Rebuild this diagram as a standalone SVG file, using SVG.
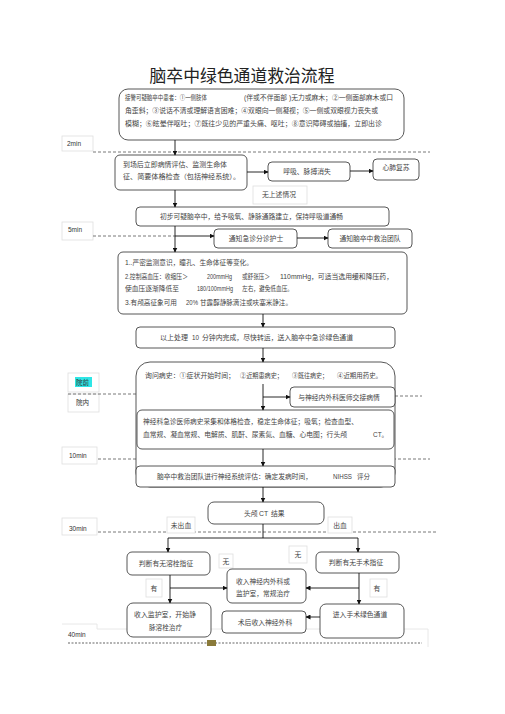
<svg xmlns="http://www.w3.org/2000/svg" width="505" height="714" viewBox="0 0 505 714">
<defs>
<marker id="ah" viewBox="0 0 10 10" refX="9" refY="5" markerWidth="5" markerHeight="5" orient="auto" markerUnits="userSpaceOnUse">
<path d="M0,0 L10,5 L0,10 z" fill="#111"/>
</marker>
</defs>
<style>
text{font-family:"Liberation Sans","Noto Sans CJK SC",sans-serif;fill:#444;font-size:6.8px}
.t{font-size:17px;fill:#222}
.b{fill:#fff;stroke:#444;stroke-width:0.9}
.lb{fill:#fff;stroke:#dedede;stroke-width:0.8}
.c{fill:none;stroke:#111;stroke-width:0.9}
.ca{fill:none;stroke:#111;stroke-width:0.9;marker-end:url(#ah)}
.d{fill:none;stroke:#555;stroke-width:0.8;stroke-dasharray:3 2}
.m{font-size:6.5px;fill:#333}
.mid{text-anchor:middle}
</style>
<rect width="505" height="714" fill="#fff"/>
<text class="t mid" x="242" y="82" textLength="185" lengthAdjust="spacingAndGlyphs">脑卒中绿色通道救治流程</text>

<g id="timeline">
<rect class="lb" x="62" y="136" width="31" height="15"/>
<text class="m" x="67" y="145.5">2min</text>
<line class="d" x1="93" y1="152" x2="430" y2="152"/>
<rect class="lb" x="62" y="222" width="31" height="18"/>
<text class="m" x="68" y="231.5">5min</text>
<line class="d" x1="93" y1="236" x2="175" y2="236"/>
<rect class="lb" x="62" y="447" width="35" height="17"/>
<text class="m" x="69" y="457.5">10min</text>
<line class="d" x1="98" y1="459" x2="430" y2="459"/>
<rect class="lb" x="62" y="518" width="35" height="17"/>
<text class="m" x="69" y="530.5">30min</text>
<line class="d" x1="98" y1="532" x2="437" y2="532"/>
<path d="M62,624 H97 V629 H428 V647" fill="none" stroke="#e2e2e2" stroke-width="0.8"/>
<text class="m" x="68" y="636.5">40min</text>
<line x1="68" y1="643" x2="422" y2="643" stroke="#999" stroke-width="1.6" stroke-dasharray="2 1.5"/>
<rect x="207" y="640" width="9" height="6" fill="#8a7a3a"/>
<rect id="yq-hl" x="75" y="377" width="17" height="10" fill="#2ee6e6"/>
<rect class="lb" x="68" y="373" width="31" height="19" fill-opacity="0"/>
<text class="m" x="76" y="385">院前</text>
<rect class="lb" x="68" y="394" width="31" height="18"/>
<text class="m" x="76" y="405">院内</text>
<line class="d" x1="68" y1="394" x2="136" y2="394"/>
<line class="d" x1="395" y1="396" x2="422" y2="396"/>
</g>

<g id="n1">
<rect class="b" x="119" y="89" width="285" height="51" rx="9"/>
<text x="125" y="100" textLength="82" lengthAdjust="spacingAndGlyphs">接警可疑脑卒中患者：①一侧肢体</text>
<text x="244" y="100" textLength="149" lengthAdjust="spacingAndGlyphs">(伴或不伴面部 )无力或麻木；②一侧面部麻木或口</text>
<text x="125" y="112.5" textLength="253" lengthAdjust="spacingAndGlyphs">角歪斜；③说话不清或理解语言困难；④双眼向一侧凝视；⑤一侧或双眼视力丧失或</text>
<text x="125" y="125.5" textLength="257" lengthAdjust="spacingAndGlyphs">模糊；⑥眩晕伴呕吐；⑦既往少见的严重头痛、呕吐；⑧意识障碍或抽搐，立即出诊</text>
</g>

<g id="n2">
<rect class="b" x="115" y="155" width="132" height="35" rx="5"/>
<text x="123" y="166.5" textLength="104" lengthAdjust="spacingAndGlyphs">到场后立即病情评估、监测生命体</text>
<text x="123" y="178.5" textLength="117" lengthAdjust="spacingAndGlyphs">征、简要体格检查（包括神经系统）。</text>
</g>

<g id="n3">
<rect class="b" x="268" y="162" width="82" height="19" rx="4"/>
<text class="mid" x="307" y="174">呼吸、脉搏消失</text>
</g>

<g id="n4">
<rect class="b" x="373" y="159" width="46" height="21" rx="4"/>
<text class="mid" x="396" y="170">心肺复苏</text>
</g>

<g id="l-none">
<rect class="lb" x="253" y="186" width="54" height="18"/>
<text class="mid" x="279" y="196.5">无上述情况</text>
</g>

<g id="n5">
<rect class="b" x="136" y="207" width="253" height="19" rx="4"/>
<text x="160" y="219" textLength="183" lengthAdjust="spacingAndGlyphs">初步可疑脑卒中，给予吸氧、静脉通路建立，保持呼吸道通畅</text>
</g>

<g id="n6">
<rect class="b" x="214" y="229" width="83" height="19" rx="4"/>
<text class="mid" x="256" y="240.5">通知急诊分诊护士</text>
</g>

<g id="n7">
<rect class="b" x="328" y="229" width="84" height="19" rx="4"/>
<text class="mid" x="370" y="240.5">通知脑卒中救治团队</text>
</g>

<g id="n8">
<rect class="b" x="118" y="252" width="289" height="62" rx="5"/>
<text x="125" y="264.5" textLength="128" lengthAdjust="spacingAndGlyphs">1..严密监测意识，瞳孔、生命体征等变化。</text>
<text x="125" y="278.5" textLength="63" lengthAdjust="spacingAndGlyphs">2.控制高血压：收缩压＞</text>
<text x="207" y="278.5" textLength="25" lengthAdjust="spacingAndGlyphs">200mmHg</text>
<text x="242" y="278.5" textLength="28" lengthAdjust="spacingAndGlyphs">或舒张压＞</text>
<text x="280" y="278.5" textLength="113" lengthAdjust="spacingAndGlyphs">110mmHg，可适当选用缓和降压药，</text>
<text x="125" y="290.5" textLength="54" lengthAdjust="spacingAndGlyphs">使血压逐渐降低至</text>
<text x="197" y="290.5" textLength="36" lengthAdjust="spacingAndGlyphs">180/100mmHg</text>
<text x="242" y="290.5" textLength="51" lengthAdjust="spacingAndGlyphs">左右，避免低血压。</text>
<text x="125" y="304.5" textLength="52" lengthAdjust="spacingAndGlyphs">3.有颅高征象可用</text>
<text x="186" y="304.5" textLength="12" lengthAdjust="spacingAndGlyphs">20%</text>
<text x="200" y="304.5" textLength="92" lengthAdjust="spacingAndGlyphs">甘露醇静脉滴注或呋塞米静注。</text>
</g>

<g id="n9">
<rect class="b" x="136" y="327" width="259" height="21" rx="4"/>
<text x="160" y="339.5" textLength="28" lengthAdjust="spacingAndGlyphs">以上处理</text>
<text x="192" y="339.5" textLength="7" lengthAdjust="spacingAndGlyphs">10</text>
<text x="202" y="339.5" textLength="151" lengthAdjust="spacingAndGlyphs">分钟内完成，尽快转运，送入脑卒中急诊绿色通道</text>
</g>

<g id="n10">
<rect class="b" x="136" y="362" width="259" height="125" rx="14"/>
<text x="145" y="377.5" textLength="90" lengthAdjust="spacingAndGlyphs">询问病史：①症状开始时间；</text>
<text x="240" y="377.5" textLength="43" lengthAdjust="spacingAndGlyphs">②近期患病史；</text>
<text x="292" y="377.5" textLength="36" lengthAdjust="spacingAndGlyphs">③既往病史；</text>
<text x="337" y="377.5" textLength="45" lengthAdjust="spacingAndGlyphs">④近期用药史。</text>
</g>

<g id="n11">
<rect class="b" x="290" y="387" width="105" height="20" rx="4"/>
<text class="mid" x="339" y="399.5">与神经内外科医师交接病情</text>
</g>

<g id="n12">
<rect class="b" x="137" y="410" width="257" height="39" rx="5"/>
<text x="143" y="423.5" textLength="215" lengthAdjust="spacingAndGlyphs">神经科急诊医师病史采集和体格检查，稳定生命体征；吸氧；检查血型、</text>
<text x="143" y="436.5" textLength="204" lengthAdjust="spacingAndGlyphs">血常规、凝血常规、电解质、肌酐、尿素氮、血糖、心电图；行头颅</text>
<text x="373" y="436.5" textLength="15" lengthAdjust="spacingAndGlyphs">CT。</text>
</g>

<g id="n13">
<rect class="b" x="136" y="466" width="259" height="21" rx="4"/>
<text x="157" y="478.5" textLength="155" lengthAdjust="spacingAndGlyphs">脑卒中救治团队进行神经系统评估：确定发病时间，</text>
<text x="333" y="478.5" textLength="19" lengthAdjust="spacingAndGlyphs">NIHSS</text>
<text x="357" y="478.5" textLength="13" lengthAdjust="spacingAndGlyphs">评分</text>
</g>

<g id="n14">
<rect class="b" x="208" y="502" width="116" height="22" rx="6"/>
<text x="244" y="515.5">头颅</text>
<text x="259" y="515.5">CT</text>
<text x="271" y="515.5">结果</text>
</g>

<g id="l-nobleed">
<rect class="lb" x="167" y="517" width="28" height="16"/>
<text class="mid" x="181" y="527.5">未出血</text>
</g>
<g id="l-bleed">
<rect class="lb" x="328" y="517" width="24" height="16"/>
<text class="mid" x="340" y="527.5">出血</text>
</g>

<g id="n15">
<rect class="b" x="127" y="552" width="83" height="23" rx="5"/>
<text class="mid" x="166" y="565.5">判断有无溶栓指征</text>
</g>

<g id="n16">
<rect class="b" x="316" y="552" width="83" height="21" rx="5"/>
<text class="mid" x="356" y="564.5">判断有无手术指征</text>
</g>

<g id="l-no1">
<rect class="lb" x="219" y="554" width="14" height="14"/>
<text class="mid" x="226" y="563.5">无</text>
</g>
<g id="l-no2">
<rect class="lb" x="289" y="546" width="18" height="17"/>
<text class="mid" x="298" y="557">无</text>
</g>

<g id="n17">
<rect class="b" x="227" y="569" width="79" height="34" rx="5"/>
<text x="236" y="583.5" textLength="54" lengthAdjust="spacingAndGlyphs">收入神经内外科或</text>
<text x="236" y="595.5" textLength="54" lengthAdjust="spacingAndGlyphs">监护室，常规治疗</text>
</g>

<g id="l-yes1">
<rect class="lb" x="146" y="579" width="16" height="18"/>
<text class="mid" x="154" y="590.5">有</text>
</g>
<g id="l-yes2">
<rect class="lb" x="370" y="579" width="17" height="18"/>
<text class="mid" x="377" y="590.5">有</text>
</g>

<g id="n18">
<rect class="b" x="127" y="603" width="84" height="34" rx="6"/>
<text x="134" y="616.5" textLength="62" lengthAdjust="spacingAndGlyphs">收入监护室，开始静</text>
<text x="149" y="629.5" textLength="33" lengthAdjust="spacingAndGlyphs">脉溶栓治疗</text>
</g>

<g id="n19">
<rect class="b" x="320" y="604" width="84" height="34" rx="6"/>
<text class="mid" x="360" y="616.5">进入手术绿色通道</text>
</g>

<g id="n20">
<rect class="b" x="222" y="611" width="84" height="22" rx="4"/>
<text class="mid" x="265" y="624.5">术后收入神经外科</text>
</g>

<g id="connectors">
<line class="ca" x1="175" y1="140" x2="175" y2="155"/>
<line class="ca" x1="247" y1="172" x2="268" y2="172"/>
<line class="ca" x1="350" y1="171" x2="373" y2="171"/>
<line class="ca" x1="175" y1="190" x2="175" y2="207"/>
<line class="ca" x1="175" y1="226" x2="175" y2="252"/>
<line class="ca" x1="175" y1="236" x2="214" y2="236"/>
<line class="ca" x1="297" y1="238" x2="328" y2="238"/>
<line class="ca" x1="263" y1="314" x2="263" y2="327"/>
<line class="ca" x1="263" y1="348" x2="263" y2="362"/>
<line class="ca" x1="263" y1="384" x2="263" y2="410"/>
<line class="ca" x1="263" y1="397" x2="290" y2="397"/>
<line class="ca" x1="263" y1="449" x2="263" y2="466"/>
<line class="ca" x1="263" y1="487" x2="263" y2="502"/>
<line class="c" x1="263" y1="524" x2="263" y2="538"/>
<line class="c" x1="168" y1="538" x2="358" y2="538"/>
<line class="ca" x1="168" y1="538" x2="168" y2="552"/>
<line class="ca" x1="358" y1="538" x2="358" y2="552"/>
<line class="ca" x1="170" y1="575" x2="170" y2="603"/>
<line class="ca" x1="170" y1="588" x2="227" y2="588"/>
<line class="ca" x1="359" y1="573" x2="359" y2="604"/>
<line class="ca" x1="359" y1="588" x2="306" y2="588"/>
<line class="ca" x1="320" y1="617" x2="306" y2="617"/>
</g>
</svg>
